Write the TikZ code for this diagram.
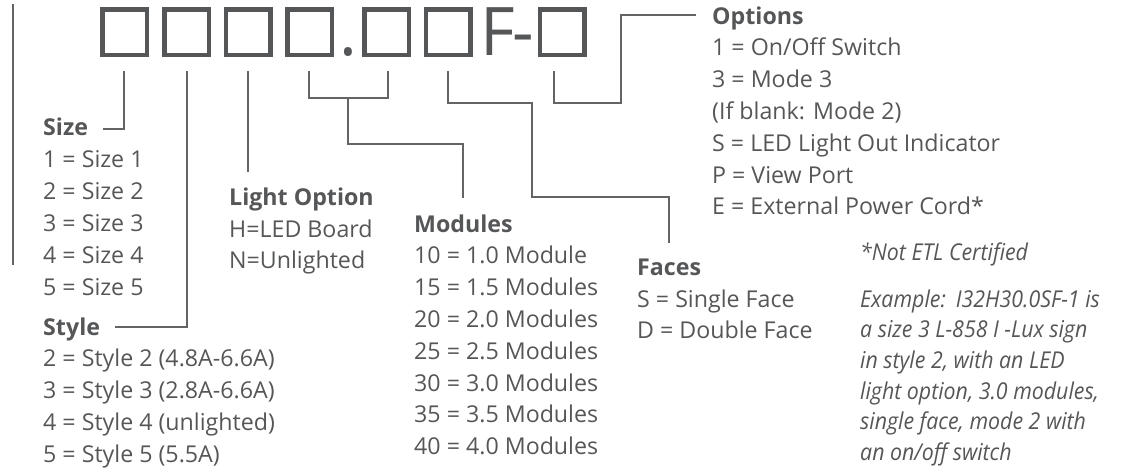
\documentclass[tikz,border=0pt]{standalone}
\usepackage{fontspec}
\setmainfont{Open Sans}
\newfontfamily\notefont[FakeStretch=0.92]{Open Sans}
\definecolor{ink}{HTML}{555658}
\definecolor{wire}{HTML}{636466}
\begin{document}
\begin{tikzpicture}[x=1pt,y=-1pt,
  txt/.style={inner sep=0pt, anchor=base west, text=ink, font=\fontsize{23.2}{30}\selectfont},
  hd/.style={txt, font=\fontsize{23.2}{30}\selectfont\bfseries},
  note/.style={txt, font=\fontsize{23.2}{30}\notefont\itshape},
  digit/.style={draw=ink, line width=4.5pt, minimum width=44.5pt, minimum height=45.5pt, inner sep=0pt},
  conn/.style={draw=wire, line width=2.3pt},
  big/.style={inner sep=0pt, anchor=base, text=ink, font=\fontsize{67}{67}\selectfont}]
\useasboundingbox (0,0) rectangle (1123,467);

% code boxes
\node[digit] (b1) at (124.5,32) {};
\node[digit] (b2) at (186.5,32) {};
\node[digit] (b3) at (248,32) {};
\node[digit] (b4) at (309.5,32) {};
\node[big] (dot) at (348,55) {.};
\node[digit] (b5) at (386.5,32) {};
\node[digit] (b6) at (448,32) {};
\node[big] (F) at (498,55) {F};
\node[big] (dash) at (523,55) {-};
\node[digit] (b7) at (562,32) {};

% left rule
\draw[wire, line width=2.3pt] (13,4) -- (13,265);

% Size
\node[hd] (sizeH) at (43,135) {Size};
\foreach \t [count=\i] in {1 = Size 1, 2 = Size 2, 3 = Size 3, 4 = Size 4, 5 = Size 5}
  \node[txt] (size\i) at (43,135+32*\i) {\t};
% Style
\node[hd] (styleH) at (43,335) {Style};
\foreach \t [count=\i] in {2 = Style 2 (4.8A-6.6A), 3 = Style 3 (2.8A-6.6A), 4 = Style 4 (unlighted), 5 = Style 5 (5.5A)}
  \node[txt] (style\i) at (43,335+31.8*\i) {\t};
% Light option
\node[hd] (lightH) at (229,205) {Light Option};
\node[txt] (light1) at (229,237) {H=LED Board};
\node[txt] (light2) at (229,268.5) {N=Unlighted};
% Modules
\node[hd] (modH) at (414,232) {Modules};
\foreach \t [count=\i] in {10 = 1.0 Module, 15 = 1.5 Modules, 20 = 2.0 Modules, 25 = 2.5 Modules, 30 = 3.0 Modules, 35 = 3.5 Modules, 40 = 4.0 Modules}
  \node[txt] (mod\i) at (414,232+31.8*\i) {\t};
% Faces
\node[hd] (faceH) at (637,275) {Faces};
\node[txt] (face1) at (637,307) {S = Single Face};
\node[txt] (face2) at (637,338.5) {D = Double Face};
% Options
\node[hd] (optH) at (712,24) {Options};
\foreach \t [count=\i] in {1 = On/Off Switch, 3 = Mode 3, (If blank: Mode 2), S = LED Light Out Indicator, P = View Port, E = External Power Cord*}
  \node[txt] (opt\i) at (712,23.5+31.9*\i) {\t};
% Notes
\node[note] (etl) at (860,260) {*Not ETL Certified};
\foreach \t [count=\i from 0] in {Example:\hspace{10pt}I32H30.0SF-1 is, a size 3 L-858 I -Lux sign, {in style 2, with an LED}, {light option, 3.0 modules,}, {single face, mode 2 with}, an on/off switch}
  \node[note] (ex\i) at (860,307+30.7*\i) {\t};

% connector ends
\coordinate (sizeA) at (124,71);  \coordinate (sizeB) at (103,129);
\coordinate (styleA) at (187,71); \coordinate (styleB) at (115,327);
\coordinate (lightA) at (248,71); \coordinate (lightB) at (248,172);
\coordinate (modA) at (309,71);   \coordinate (modB) at (388,71);
\coordinate (modS) at (348,98);   \coordinate (modE) at (463,198);
\coordinate (faceA) at (448,71);  \coordinate (faceE) at (669,243);
\coordinate (optA) at (554,71);   \coordinate (optE) at (696,15);

\draw[conn] (sizeA) |- (sizeB);
\draw[conn] (styleA) |- (styleB);
\draw[conn] (lightA) -- (lightB);
\draw[conn] (modA) -- ++(0,27) -| (modB);
\draw[conn] (modS) -- (348,144) -| (modE);
\draw[conn] (faceA) -- (448,103) -| (532,197) -| (faceE);
\draw[conn] (optA) -- (554,103) -| (621,15) -- (optE);
\end{tikzpicture}
\end{document}
